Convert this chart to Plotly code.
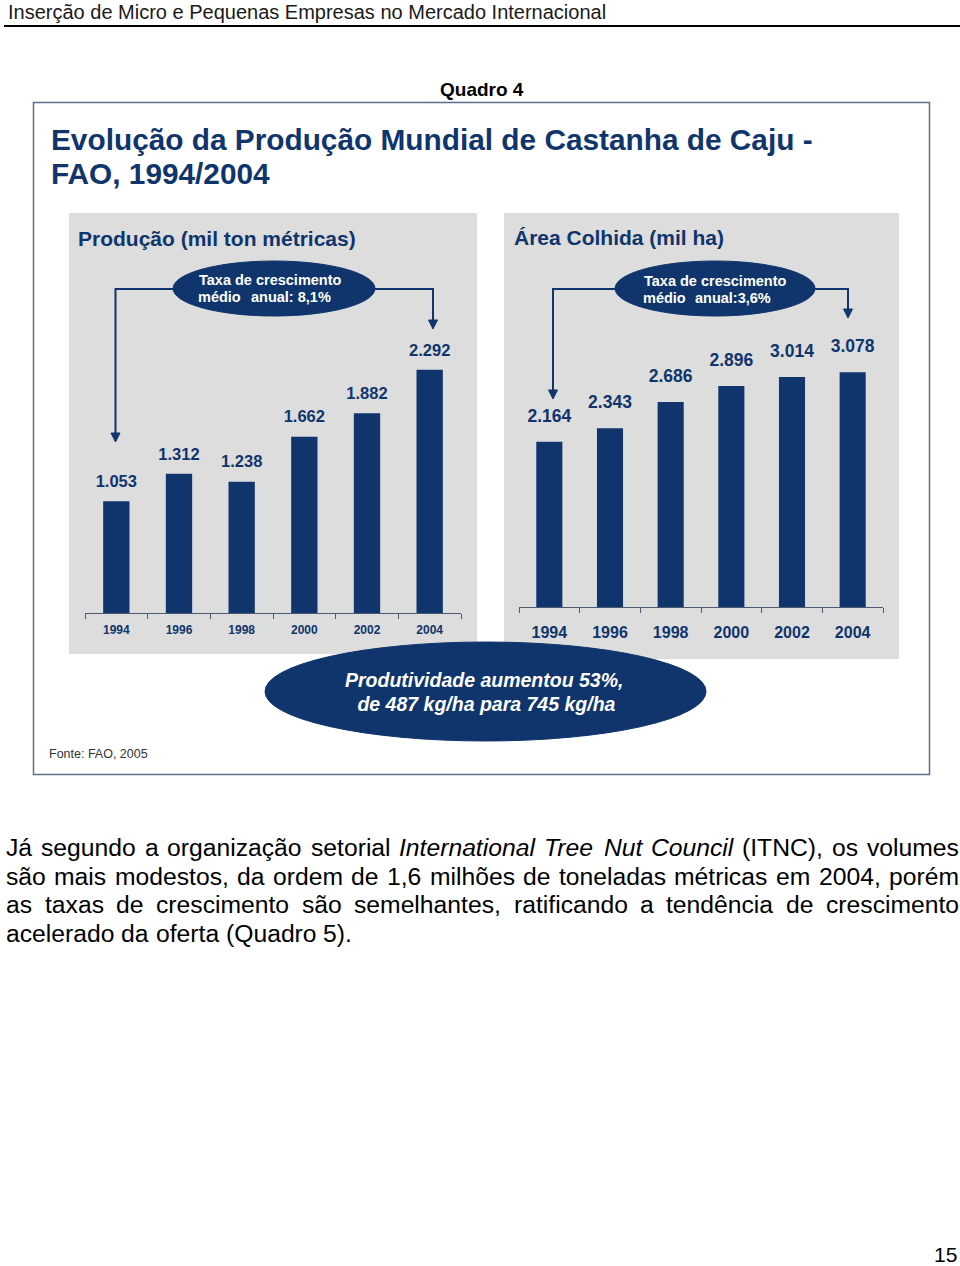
import plotly.graph_objects as go

# ---------------- data ----------------
years = ["1994", "1996", "1998", "2000", "2002", "2004"]
producao = [1053, 1312, 1238, 1662, 1882, 2292]      # mil ton métricas
area = [2164, 2343, 2686, 2896, 3014, 3078]          # mil ha

header_text = "Inserção de Micro e Pequenas Empresas no Mercado Internacional"
quadro_text = "Quadro 4"
title_lines = ["Evolução da Produção Mundial de Castanha de Caju -", "FAO, 1994/2004"]
left_title = "Produção (mil ton métricas)"
right_title = "Área Colhida (mil ha)"
left_rate = ["Taxa de crescimento", "médio", "anual: 8,1%"]
right_rate = ["Taxa de crescimento", "médio", "anual:3,6%"]
prod_lines = ["Produtividade aumentou 53%,", " de 487 kg/ha para 745 kg/ha"]
fonte_text = "Fonte: FAO, 2005"
paragraph = [
    [("Já", 0), ("segundo", 0), ("a", 0), ("organização", 0), ("setorial", 0),
     ("International", 1), ("Tree", 1), ("Nut", 1), ("Council", 1), ("(ITNC),", 0),
     ("os", 0), ("volumes", 0)],
    [("são", 0), ("mais", 0), ("modestos,", 0), ("da", 0), ("ordem", 0), ("de", 0),
     ("1,6", 0), ("milhões", 0), ("de", 0), ("toneladas", 0), ("métricas", 0),
     ("em", 0), ("2004,", 0), ("porém", 0)],
    [("as", 0), ("taxas", 0), ("de", 0), ("crescimento", 0), ("são", 0),
     ("semelhantes,", 0), ("ratificando", 0), ("a", 0), ("tendência", 0), ("de", 0),
     ("crescimento", 0)],
    [("acelerado", 0), ("da", 0), ("oferta", 0), ("(Quadro", 0), ("5).", 0)],
]
page_number = "15"

# ---------------- style ----------------
W, H = 960, 1266
NAVY = "#0f356c"
GREY = "#dddddd"
AXC = "#4b5a72"
FONT = "Liberation Sans"


def px(x):
    return x / W


def py(y):
    return 1 - y / H


def fmt(v):
    return f"{v:,}".replace(",", ".")


# Arial / Liberation Sans widths (1/1000 em)
WID = {" ": 278, "a": 556, "b": 556, "c": 500, "d": 556, "e": 556, "f": 278, "g": 556,
       "h": 556, "i": 222, "j": 222, "k": 500, "l": 222, "m": 833, "n": 556, "o": 556,
       "p": 556, "q": 556, "r": 333, "s": 500, "t": 278, "u": 556, "v": 500, "w": 722,
       "x": 500, "y": 500, "z": 500, "á": 556, "ã": 556, "ç": 500, "é": 556, "ê": 556,
       "õ": 556, "ó": 556, "J": 500, "I": 278, "T": 611, "N": 722, "C": 722, "Q": 778,
       ",": 278, ".": 278, "(": 333, ")": 333}


def text_w(s, fs):
    return sum(WID.get(c, 556) for c in s) * fs / 1000


fig = go.Figure()
fig.add_trace(go.Bar(x=years, y=producao, xaxis="x", yaxis="y", marker_color=NAVY,
                     marker_line_width=0, width=0.42, hoverinfo="skip"))
fig.add_trace(go.Bar(x=years, y=area, xaxis="x2", yaxis="y2", marker_color=NAVY,
                     marker_line_width=0, width=0.43, hoverinfo="skip"))

# value labels (invisible markers carry the text above each bar)
fig.add_trace(go.Scatter(x=years, y=producao, xaxis="x", yaxis="y", mode="markers+text",
                         text=[fmt(v) for v in producao], textposition="top center",
                         marker=dict(size=14.5, color="rgba(0,0,0,0)"), cliponaxis=False,
                         textfont=dict(family=FONT, size=16.5, color=NAVY, weight="bold"),
                         hoverinfo="skip"))
fig.add_trace(go.Scatter(x=years, y=area, xaxis="x2", yaxis="y2", mode="markers+text",
                         text=[fmt(v) for v in area], textposition="top center",
                         marker=dict(size=23, color="rgba(0,0,0,0)"), cliponaxis=False,
                         textfont=dict(family=FONT, size=17.5, color=NAVY, weight="bold"),
                         hoverinfo="skip"))

shapes = []
# header rule
shapes.append(dict(type="line", xref="paper", yref="paper", x0=px(4), x1=px(960),
                   y0=py(26), y1=py(26), line=dict(color="#000000", width=2)))
# outer box
shapes.append(dict(type="rect", xref="paper", yref="paper", x0=px(33.5), x1=px(929.5),
                   y0=py(102.5), y1=py(774.5), line=dict(color="#5d6f8c", width=1.5),
                   fillcolor="rgba(0,0,0,0)", layer="below"))
# grey panels
shapes.append(dict(type="rect", xref="paper", yref="paper", x0=px(69), x1=px(477),
                   y0=py(213), y1=py(654), line=dict(width=0), fillcolor=GREY, layer="below"))
shapes.append(dict(type="rect", xref="paper", yref="paper", x0=px(504), x1=px(899),
                   y0=py(213), y1=py(659), line=dict(width=0), fillcolor=GREY, layer="below"))


def poly(points):
    return "M " + " L ".join(f"{px(x)},{py(y)}" for x, y in points)


def arrow_head(x, ytip):
    return dict(type="path", xref="paper", yref="paper",
                path=poly([(x - 4.5, ytip - 9), (x + 4.5, ytip - 9), (x, ytip)]) + " Z",
                fillcolor=NAVY, line=dict(color=NAVY, width=1))


# connectors
for pts, tips in [
    ([(115.5, 434), (115.5, 289), (433, 289), (433, 321)], [(115.5, 442), (433, 329)]),
    ([(553, 391), (553, 289), (848, 289), (848, 310)], [(553, 399), (848, 318)]),
]:
    shapes.append(dict(type="path", xref="paper", yref="paper", path=poly(pts),
                       line=dict(color=NAVY, width=2)))
    for t in tips:
        shapes.append(arrow_head(*t))

# ellipses
for (x0, x1, y0, y1) in [(173, 375, 261, 316), (615, 815, 261, 316), (265, 706, 642, 741)]:
    shapes.append(dict(type="circle", xref="paper", yref="paper", x0=px(x0), x1=px(x1),
                       y0=py(y1), y1=py(y0), fillcolor=NAVY, line=dict(color=NAVY, width=1)))

ann = []


def txt(x, y, s, size, color="#000000", bold=False, italic=False, xanchor="left", family=FONT):
    t = s
    if bold:
        t = f"<b>{t}</b>"
    if italic:
        t = f"<i>{t}</i>"
    ann.append(dict(xref="paper", yref="paper", x=px(x), y=py(y), text=t, showarrow=False,
                    xanchor=xanchor, yanchor="middle", borderpad=0,
                    font=dict(family=family, size=size, color=color)))


txt(7, 12, header_text, 20, color="#1a1a1a")
txt(482, 90, quadro_text, 19, bold=True, xanchor="center")
txt(50, 139, title_lines[0], 29.8, color=NAVY, bold=True)
txt(50, 174, title_lines[1], 29.8, color=NAVY, bold=True)
txt(77, 238, left_title, 21, color=NAVY, bold=True)
txt(513, 237, right_title, 21, color=NAVY, bold=True)

txt(198, 280, left_rate[0], 14.5, color="#ffffff", bold=True)
txt(197, 297, left_rate[1], 14.5, color="#ffffff", bold=True)
txt(250, 297, left_rate[2], 14.5, color="#ffffff", bold=True)
txt(643, 281, right_rate[0], 14.5, color="#ffffff", bold=True)
txt(642, 298, right_rate[1], 14.5, color="#ffffff", bold=True)
txt(694, 298, right_rate[2], 14.5, color="#ffffff", bold=True)

txt(484, 680, prod_lines[0], 19.5, color="#ffffff", bold=True, italic=True, xanchor="center")
txt(484, 704, prod_lines[1], 19.5, color="#ffffff", bold=True, italic=True, xanchor="center")
txt(48, 754, fonte_text, 12.5, color="#333333")
txt(958, 1254, page_number, 21, xanchor="right")

# justified paragraph
FS = 24.7
LEFT, RIGHT = 5, 958
line_y = [847, 876, 904, 933]
for li, words in enumerate(paragraph):
    widths = [text_w(w, FS) for w, _ in words]
    if li < len(paragraph) - 1:
        gap = (RIGHT - LEFT - sum(widths)) / (len(words) - 1)
    else:
        gap = WID[" "] * FS / 1000
    x = LEFT
    for (w, it), wd in zip(words, widths):
        txt(x, line_y[li], w, FS, italic=bool(it))
        x += wd + gap

axis_common = dict(type="category", showline=True, linecolor=AXC, linewidth=1,
                   ticks="outside", tickson="boundaries", ticklen=5, tickcolor=AXC,
                   tickwidth=1, showgrid=False, zeroline=False, range=[-0.5, 5.5],
                   fixedrange=True)

fig.update_layout(
    width=W, height=H, margin=dict(l=0, r=0, t=0, b=0),
    paper_bgcolor="#ffffff", plot_bgcolor="rgba(0,0,0,0)",
    showlegend=False, bargap=0.5,
    xaxis=dict(domain=[px(85), px(461)], anchor="y",
               tickfont=dict(family=FONT, size=12, color=NAVY, weight="bold"),
               ticklabelstandoff=6, **axis_common),
    yaxis=dict(domain=[py(613), py(340)], range=[0, 2573], visible=False, fixedrange=True),
    xaxis2=dict(domain=[px(519), px(883)], anchor="y2",
                tickfont=dict(family=FONT, size=16, color=NAVY, weight="bold"),
                ticklabelstandoff=11, **axis_common),
    yaxis2=dict(domain=[py(607), py(340)], range=[0, 3499], visible=False, fixedrange=True),
    shapes=shapes, annotations=ann,
)

fig.write_html("out.html", config={"displayModeBar": False},
               post_script="document.body.style.margin='0px';")
